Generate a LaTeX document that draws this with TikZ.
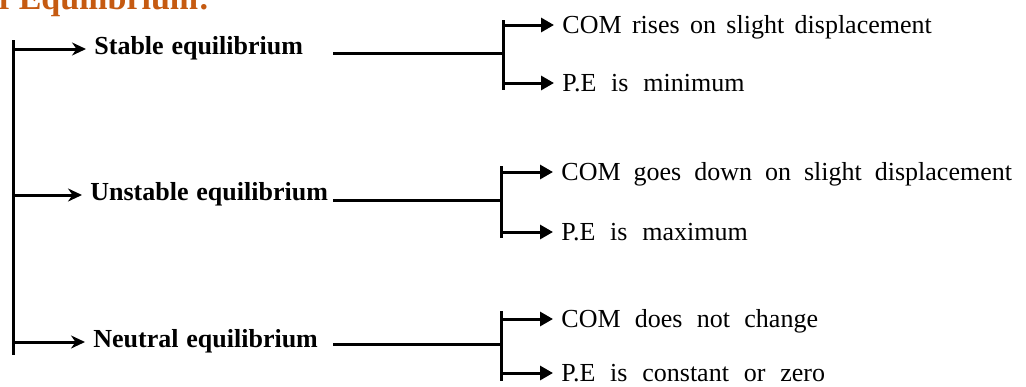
\documentclass[tikz,border=0pt]{standalone}
\usepackage{fontspec}
\setmainfont{Liberation Serif}
\usetikzlibrary{arrows.meta}
\definecolor{titleorange}{HTML}{C55A11}
\begin{document}
\begin{tikzpicture}[x=0.5pt,y=-0.5pt,
  wire/.style={line width=1.5pt},
  leftarrow/.style={wire,-{Stealth[length=7pt,width=6.5pt]}},
  rightarrow/.style={wire,-{Triangle[length=6.5pt,width=7pt]}},
  kind/.style={font=\bfseries\fontsize{13}{15}\selectfont,
    execute at begin node={\spaceskip=0.3em\relax},
    anchor=west,inner xsep=4pt,inner ysep=0pt,text height=7pt,text depth=2pt},
  fact/.style={font=\fontsize{13}{15}\selectfont,
    execute at begin node={\spaceskip=#1\relax},
    anchor=west,inner xsep=4pt,inner ysep=0pt,text height=9pt,text depth=1pt},
  fact/.default=0.57em]
\useasboundingbox (0,0) rectangle (1026,386);
\clip (0,0) rectangle (1026,386);

% heading, cut by the top edge
\node[anchor=base east,inner sep=0pt,text=titleorange,
  font=\bfseries\fontsize{17}{20}\selectfont] (title) at (210,9) {f Equilibrium:};

% main spine
\coordinate (spinetop) at (13,40);
\coordinate (spinebot) at (13,355);
\draw[wire] (spinetop) -- (spinebot);

% kinds of equilibrium
\node[kind] (stable)   at (86,49)  {Stable equilibrium};
\node[kind] (unstable) at (82,195) {Unstable equilibrium};
\node[kind] (neutral)  at (85,342) {Neutral equilibrium};

\foreach \k in {stable,unstable,neutral}
  \draw[leftarrow] (spinetop |- \k.west) -- (\k.west);

% feeder lines and brackets
\coordinate (f1) at (333,53);
\coordinate (f2) at (333,200);
\coordinate (f3) at (333,344);
\coordinate (b1top) at (503,20);  \coordinate (b1bot) at (503,90);
\coordinate (b2top) at (501,166); \coordinate (b2bot) at (501,238);
\coordinate (b3top) at (501,311); \coordinate (b3bot) at (501,381);

\draw[wire] (b1top) -- (b1bot);
\draw[wire] (b2top) -- (b2bot);
\draw[wire] (b3top) -- (b3bot);
\draw[wire] (f1) -- (f1 -| b1top);
\draw[wire] (f2) -- (f2 -| b2top);
\draw[wire] (f3) -- (f3 -| b3top);

% properties
\node[fact=0.4em] (s1) at (554,25)  {COM rises on slight displacement};
\node[fact]       (s2) at (554,83)  {P.E is minimum};
\node[fact=0.5em] (u1) at (553,172) {COM goes down on slight displacement};
\node[fact]       (u2) at (553,232) {P.E is maximum};
\node[fact=0.55em](n1) at (553,319) {COM does not change};
\node[fact]       (n2) at (553,373) {P.E is constant or zero};

\draw[rightarrow] (b1top |- s1.west) -- (s1.west);
\draw[rightarrow] (b1top |- s2.west) -- (s2.west);
\draw[rightarrow] (b2top |- u1.west) -- (u1.west);
\draw[rightarrow] (b2top |- u2.west) -- (u2.west);
\draw[rightarrow] (b3top |- n1.west) -- (n1.west);
\draw[rightarrow] (b3top |- n2.west) -- (n2.west);
\end{tikzpicture}
\end{document}
